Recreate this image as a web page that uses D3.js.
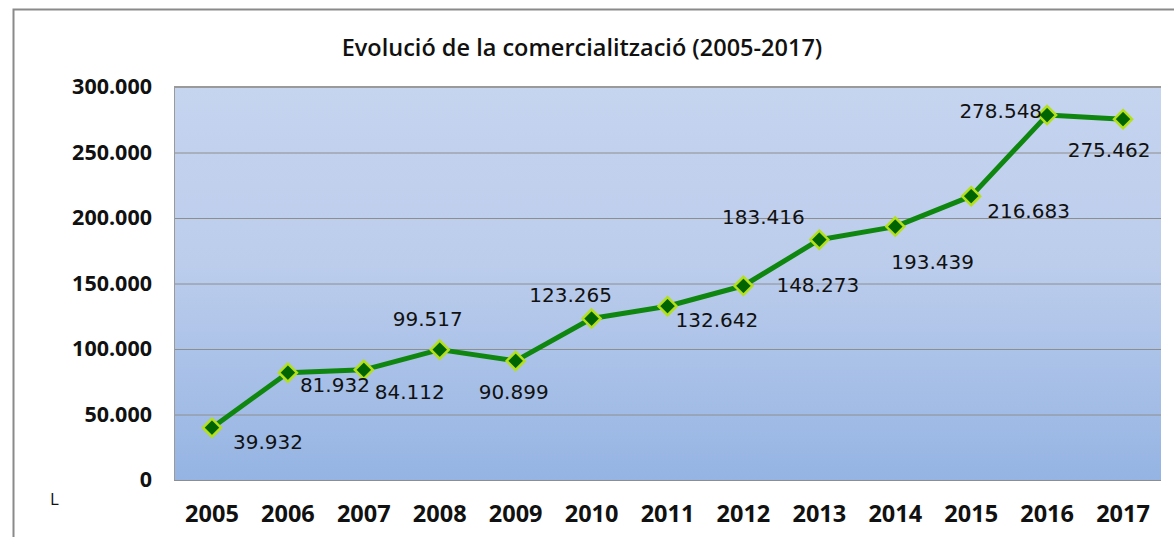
<!DOCTYPE html>
<html>
<head>
<meta charset="utf-8">
<script src="https://cdn.jsdelivr.net/npm/d3@7"></script>
<style>
  body { margin: 0; background: #fff; }
  svg { display: block; }
</style>
</head>
<body>
<div id="chart"></div>
<script>
const years = ["2005", "2006", "2007", "2008", "2009", "2010", "2011", "2012", "2013", "2014", "2015", "2016", "2017"]
const litres = [39932, 81932, 84112, 99517, 90899, 123265, 132642, 148273, 183416, 193439, 216683, 278548, 275462]
const yTicks = [0, 50000, 100000, 150000, 200000, 250000, 300000]
const title = "Evolució de la comercialització (2005-2017)"
const unitLabel = "L"

// where each data label sits around its marker (hand placed in the original)
const labelPlace = [
  ["start", 21, 21], ["start", 12, 19], ["start", 11, 29], ["middle", -12, -24],
  ["middle", -2, 38], ["middle", -21, -17], ["start", 8, 21], ["start", 33, 6],
  ["middle", -56, -16], ["start", -4, 42], ["start", 16, 22], ["end", -5, 3],
  ["middle", -14, 38]
]

const width = 1174
const height = 537
const plot = { left: 174, right: 1161, top: 87, bottom: 480 }

const fmt = d3.formatLocale({ decimal: ",", thousands: ".", grouping: [3], currency: ["", ""] }).format(",d")

const data = years.map((y, i) => ({ year: y, value: litres[i], place: labelPlace[i] }))

const x = d3.scaleBand()
  .domain(years)
  .range([plot.left, plot.right])

const y = d3.scaleLinear()
  .domain([0, 300000])
  .range([plot.bottom, plot.top])

const svg = d3.select("#chart")
  .append("svg")
  .attr("width", width)
  .attr("height", height)

const grad = svg.append("defs")
  .append("linearGradient")
  .attr("id", "bg")
  .attr("x1", 0).attr("y1", 0).attr("x2", 0).attr("y2", 1)
grad.append("stop").attr("offset", "0%").attr("stop-color", "#c5d4ef")
grad.append("stop").attr("offset", "45%").attr("stop-color", "#bccdec")
grad.append("stop").attr("offset", "100%").attr("stop-color", "#95b4e3")

// outer frame
svg.append("rect")
  .attr("x", 13.5)
  .attr("y", 9.5)
  .attr("width", 1300)
  .attr("height", 700)
  .attr("fill", "none")
  .attr("stroke", "#8a8a8a")
  .attr("stroke-width", 2)

svg.append("text")
  .attr("x", 582)
  .attr("y", 56)
  .attr("text-anchor", "middle")
  .style("font-family", "'Open Sans', sans-serif")
  .style("font-weight", 600)
  .style("font-size", "23.5px")
  .attr("fill", "#111")
  .text(title)

svg.append("rect")
  .attr("x", plot.left)
  .attr("y", plot.top)
  .attr("width", plot.right - plot.left)
  .attr("height", plot.bottom - plot.top)
  .attr("fill", "url(#bg)")

// gridlines
svg.append("g")
  .attr("transform", `translate(${plot.left},0)`)
  .call(d3.axisLeft(y).tickValues(yTicks).tickSize(-(plot.right - plot.left)).tickFormat(""))
  .call(g => g.select(".domain").remove())
  .call(g => g.selectAll("line").attr("stroke", "#8e8e8e").attr("stroke-width", 1))

svg.append("line")
  .attr("x1", plot.left).attr("x2", plot.right)
  .attr("y1", plot.top).attr("y2", plot.top)
  .attr("stroke", "#9a9a9a").attr("stroke-width", 2)

svg.append("line")
  .attr("x1", plot.left + 0.5).attr("x2", plot.left + 0.5)
  .attr("y1", plot.top).attr("y2", plot.bottom)
  .attr("stroke", "#9a9a9a").attr("stroke-width", 1)

// y axis labels
svg.append("g")
  .attr("transform", `translate(${plot.left},0)`)
  .call(d3.axisLeft(y).tickValues(yTicks).tickSize(0).tickPadding(22).tickFormat(fmt))
  .call(g => g.select(".domain").remove())
  .call(g => g.selectAll("text")
    .attr("fill", "#111")
    .style("font-family", "'Open Sans', sans-serif")
    .style("font-weight", 700)
    .style("font-size", "21.5px"))

// x axis labels
svg.append("g")
  .attr("transform", `translate(0,${plot.bottom})`)
  .call(d3.axisBottom(x).tickSize(0).tickPadding(25))
  .call(g => g.select(".domain").remove())
  .call(g => g.selectAll("text")
    .attr("fill", "#111")
    .style("font-family", "'Open Sans', sans-serif")
    .style("font-weight", 700)
    .style("font-size", "23.5px"))

svg.append("text")
  .attr("x", 50)
  .attr("y", 505)
  .style("font-family", "'Open Sans', sans-serif")
  .style("font-size", "17px")
  .attr("fill", "#111")
  .text(unitLabel)

const cx = d => x(d.year) + x.bandwidth() / 2

const line = d3.line()
  .x(cx)
  .y(d => y(d.value))

svg.append("path")
  .datum(data)
  .attr("d", line)
  .attr("fill", "none")
  .attr("stroke", "#0f870f")
  .attr("stroke-width", 5)
  .attr("stroke-linejoin", "round")

svg.append("g")
  .selectAll("path")
  .data(data)
  .join("path")
  .attr("transform", d => `translate(${cx(d)},${y(d.value)})`)
  .attr("d", "M0,-9L9,0L0,9L-9,0Z")
  .attr("fill", "#006400")
  .attr("stroke", "#b4e01a")
  .attr("stroke-width", 2.5)

svg.append("g")
  .selectAll("text")
  .data(data)
  .join("text")
  .attr("x", d => cx(d) + d.place[1])
  .attr("y", d => y(d.value) + d.place[2])
  .attr("text-anchor", d => d.place[0])
  .style("font-family", "'DejaVu Sans', sans-serif")
  .style("font-size", "20px")
  .attr("fill", "#111")
  .text(d => fmt(d.value))
</script>
</body>
</html>
